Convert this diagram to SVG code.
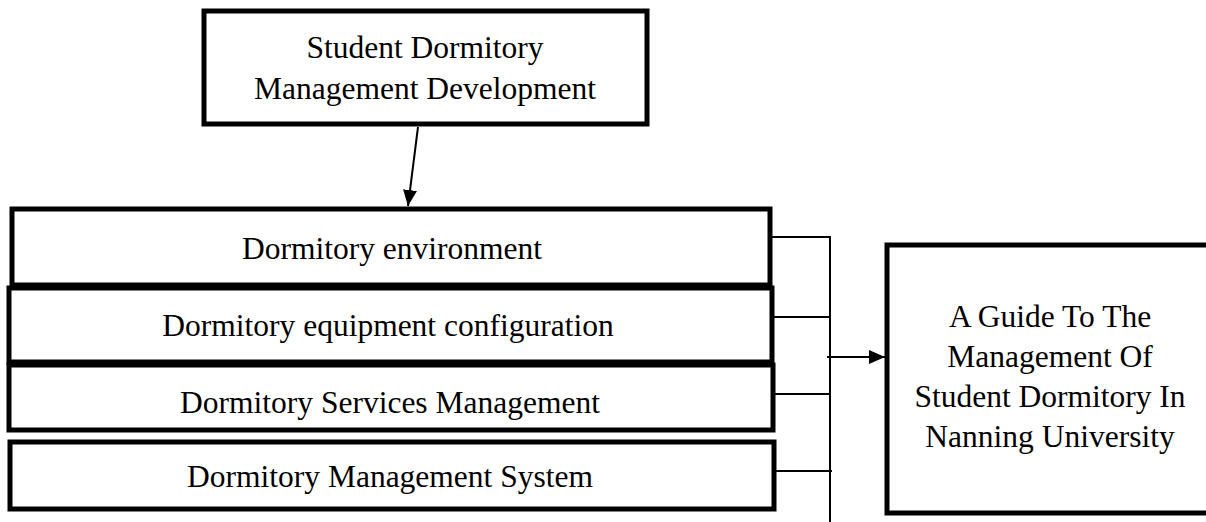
<svg xmlns="http://www.w3.org/2000/svg" width="1206" height="522" viewBox="0 0 1206 522">
<style>
.box{fill:#fff;stroke:#000;stroke-width:5}
.t{font-family:"Liberation Serif",serif;font-size:31.5px;fill:#000;text-anchor:middle}
.c{fill:none;stroke:#000;stroke-width:2}
</style>
<defs>
<marker id="ah" markerWidth="16" markerHeight="14" refX="16" refY="7" orient="auto" markerUnits="userSpaceOnUse">
<path d="M0,0 L16,7 L0,14 Z" fill="#000"/>
</marker>
</defs>
<rect width="1206" height="522" fill="#fff"/>
<g id="top">
<rect class="box" x="204" y="11" width="443" height="113"/>
<text class="t" x="425" y="58">Student Dormitory</text>
<text class="t" x="425" y="99">Management Development</text>
</g>
<g id="env">
<rect class="box" x="12" y="209" width="758" height="76"/>
<text class="t" x="392" y="259">Dormitory environment</text>
</g>
<g id="equip">
<rect class="box" x="9" y="288" width="763" height="74"/>
<text class="t" x="388" y="336">Dormitory equipment configuration</text>
</g>
<g id="services">
<rect class="box" x="9" y="365" width="764" height="65"/>
<text class="t" x="390" y="413">Dormitory Services Management</text>
</g>
<g id="system">
<rect class="box" x="10" y="442" width="764" height="67"/>
<text class="t" x="390" y="487">Dormitory Management System</text>
</g>
<g id="guide">
<rect class="box" x="887" y="245" width="325" height="268"/>
<text class="t" x="1050" y="327">A Guide To The</text>
<text class="t" x="1050" y="367">Management Of</text>
<text class="t" x="1050" y="407">Student Dormitory In</text>
<text class="t" x="1050" y="447">Nanning University</text>
</g>
<g id="connectors">
<line class="c" x1="418" y1="127" x2="408" y2="206" marker-end="url(#ah)"/>
<line class="c" x1="772" y1="237" x2="830" y2="237"/>
<line class="c" x1="774" y1="317" x2="830" y2="317"/>
<line class="c" x1="775" y1="394" x2="830" y2="394"/>
<line class="c" x1="776" y1="471" x2="832" y2="471"/>
<line class="c" x1="830" y1="236" x2="830" y2="522"/>
<line class="c" x1="827" y1="357" x2="885" y2="357" marker-end="url(#ah)"/>
</g>
</svg>
